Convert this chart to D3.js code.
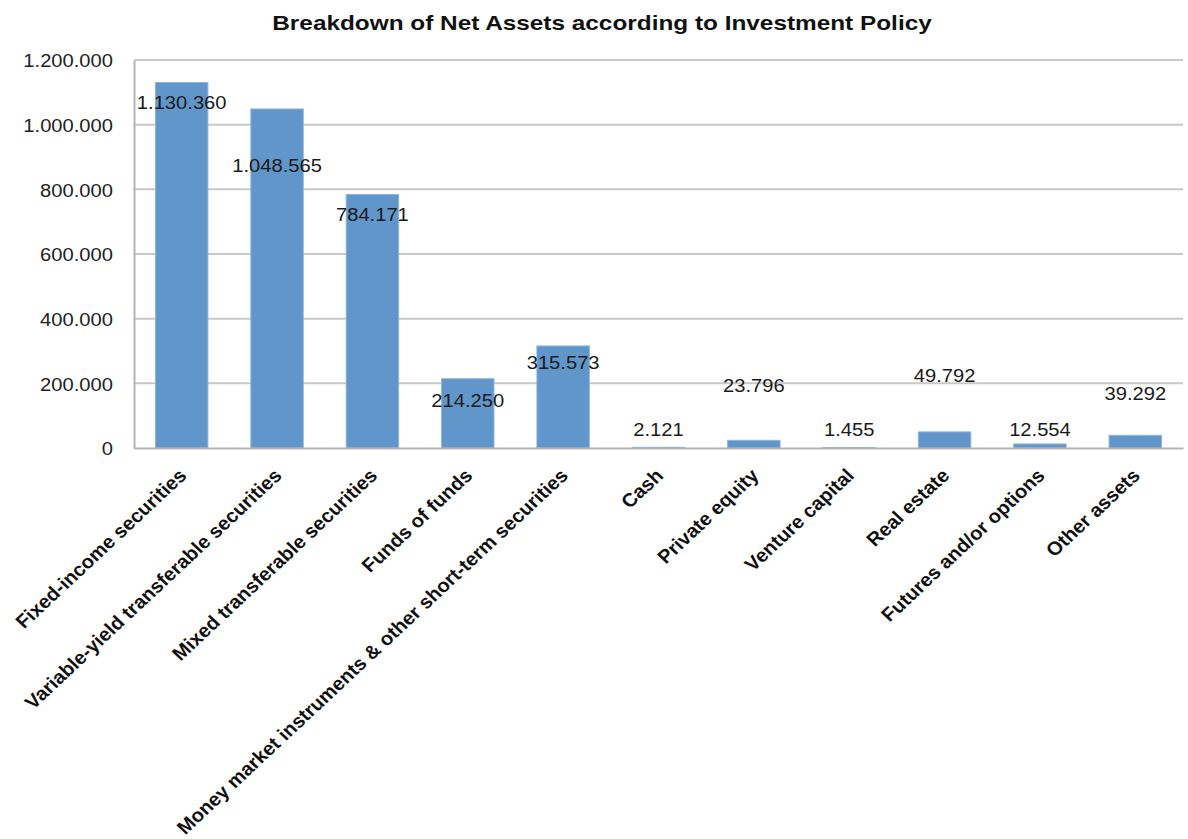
<!DOCTYPE html>
<html><head><meta charset="utf-8">
<script src="https://cdn.jsdelivr.net/npm/d3@7"></script>
<style>body{margin:0;background:#fff;} svg{font-family:"Liberation Sans",Arial,sans-serif;}</style>
</head><body>
<svg id="chart" width="1188" height="839"></svg>
<script>
const title = "Breakdown of Net Assets according to Investment Policy";
const categories = ["Fixed-income securities","Variable-yield transferable securities","Mixed transferable securities","Funds of funds","Money market instruments & other short-term securities","Cash","Private equity","Venture capital","Real estate","Futures and/or options","Other assets"];
const values = [1130360,1048565,784171,214250,315573,2121,23796,1455,49792,12554,39292];
// value-axis level at which each data label is centred
const labelLevels = [1067000,875000,720700,145400,262900,55700,191800,55700,222700,55700,167000];
const yTicks = [0,200000,400000,600000,800000,1000000,1200000];

const fmt = v => d3.format(",")(v).replace(/,/g,".");
const svg = d3.select("#chart");
const m = {l:134, r:1183, t:60, b:448};
const SX = 1.09; // horizontal stretch of the glyphs in the reference
const x = d3.scaleBand().domain(categories).range([m.l,m.r]).paddingInner(0.45).paddingOuter(0.225);
const y = d3.scaleLinear().domain([0,1200000]).range([m.b,m.t]);

svg.append("text").attr("text-anchor","middle")
  .attr("transform","translate(602,30) scale(1.16,1)")
  .attr("font-weight","bold").attr("font-size",21).attr("fill","#111").text(title);

// grid
svg.append("g").selectAll("line").data(yTicks.filter(d=>d>0)).join("line")
  .attr("x1",m.l).attr("x2",m.r).attr("y1",d=>y(d)).attr("y2",d=>y(d))
  .attr("stroke","#c8c8c8").attr("stroke-width",2);

const ya = svg.append("g").attr("transform",`translate(${m.l},0)`)
  .call(d3.axisLeft(y).tickValues(yTicks).tickSize(0).tickPadding(0).tickFormat(fmt));
ya.select(".domain").attr("stroke","#b4b4b4").attr("stroke-width",2);
ya.selectAll("text").attr("font-size",18.5).attr("fill","#222")
  .attr("font-family","Liberation Sans, Arial, sans-serif")
  .attr("x",0).attr("transform",`translate(-21,1) scale(${SX},1)`);

// bars
svg.append("g").selectAll("rect").data(values).join("rect")
  .attr("x",(d,i)=>x(categories[i])).attr("width",x.bandwidth())
  .attr("y",d=>y(d)).attr("height",d=>y(0)-y(d))
  .attr("fill","#6096ca").attr("stroke","#8db5dd").attr("stroke-width",1);

const xa = svg.append("g").attr("transform",`translate(0,${m.b})`)
  .call(d3.axisBottom(x).tickSize(0).tickPadding(0));
xa.select(".domain").attr("stroke","#b4b4b4").attr("stroke-width",2);
xa.selectAll("text").attr("font-size",19).attr("font-weight","bold").attr("fill","#111")
  .attr("font-family","Liberation Sans, Arial, sans-serif")
  .attr("text-anchor","end").attr("y",0).attr("dy","0.35em")
  .attr("transform",`translate(1,24) scale(1.07,1) rotate(-45)`);

// data labels
svg.append("g").selectAll("text").data(values).join("text")
  .attr("transform",(d,i)=>`translate(${x(categories[i])+x.bandwidth()/2},${y(labelLevels[i])}) scale(${SX},1)`)
  .attr("dy","0.35em")
  .attr("text-anchor","middle").attr("font-size",18.5).attr("fill","#1a1a1a")
  .text(d=>fmt(d));
</script>
</body></html>
